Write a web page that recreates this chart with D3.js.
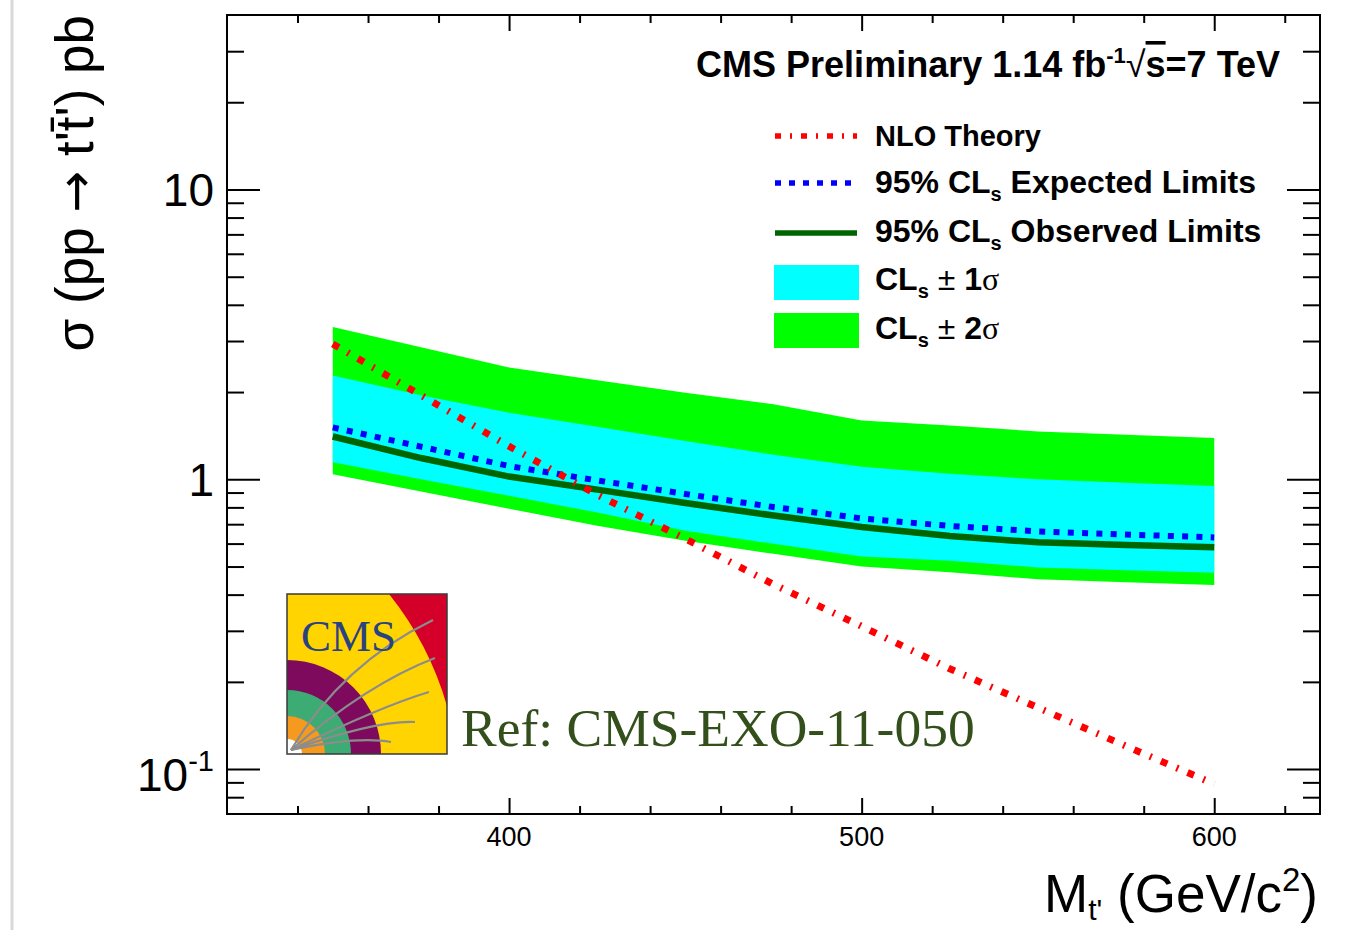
<!DOCTYPE html>
<html>
<head>
<meta charset="utf-8">
<script src="https://cdn.jsdelivr.net/npm/d3@7"></script>
<style>
  body { margin: 0; background: #fff; }
  svg { display: block; }
</style>
</head>
<body>
<svg id="chart" width="1348" height="930"></svg>
<script>
// t' pair-production cross-section limits vs. t' mass
const masses     = [350, 375, 400, 425, 450, 475, 500, 525, 550, 575, 600];
const nloTheory  = [2.93, 1.95, 1.30, 0.884, 0.623, 0.434, 0.311, 0.222, 0.163, 0.120, 0.0888];
const expected   = [1.51, 1.296, 1.111, 0.991, 0.890, 0.802, 0.733, 0.690, 0.661, 0.645, 0.630];
const observed   = [1.405, 1.184, 1.022, 0.921, 0.828, 0.750, 0.685, 0.637, 0.606, 0.593, 0.583];
const plus2Sigma = [3.356, 2.855, 2.432, 2.197, 1.989, 1.815, 1.596, 1.532, 1.463, 1.424, 1.389];
const plus1Sigma = [2.279, 1.950, 1.696, 1.517, 1.356, 1.215, 1.105, 1.046, 1.000, 0.973, 0.948];
const minus1Sigma= [1.145, 1.000, 0.877, 0.768, 0.665, 0.599, 0.541, 0.524, 0.496, 0.485, 0.476];
const minus2Sigma= [1.041, 0.907, 0.792, 0.692, 0.614, 0.553, 0.500, 0.478, 0.452, 0.441, 0.432];

const xMajorTicks = [400, 500, 600];
const xTickLabels = ["400", "500", "600"];
const yMajorTicks = [0.1, 1, 10];
const yTickLabels = [["10", "-1"], ["1", ""], ["10", ""]];

const legendLabels = ["NLO Theory", "95% CL|s| Expected Limits", "95% CL|s| Observed Limits"];

const svg = d3.select("#chart");
const W = 1348, H = 930;
const frame = { left: 227, right: 1320, top: 15, bottom: 814 };

const x = d3.scaleLinear().domain([320, 630]).range([frame.left, frame.right]);
const y = d3.scaleLog().domain([0.07, 40]).range([frame.bottom, frame.top]);

// thin page-edge rule on the far left
svg.append("line").attr("x1", 12).attr("x2", 12).attr("y1", 0).attr("y2", H)
  .attr("stroke", "#d9d9d9").attr("stroke-width", 3);

const rows = masses.map((m, i) => ({
  m, th: nloTheory[i], exp: expected[i], obs: observed[i],
  p2: plus2Sigma[i], p1: plus1Sigma[i], m1: minus1Sigma[i], m2: minus2Sigma[i]
}));

// uncertainty bands
const band = (lo, hi) => d3.area().x(d => x(d.m)).y0(d => y(d[lo])).y1(d => y(d[hi]));
svg.append("path").datum(rows).attr("d", band("m2", "p2")).attr("fill", "#00ff00");
svg.append("path").datum(rows).attr("d", band("m1", "p1")).attr("fill", "#00ffff");

// limit curves
const line = key => d3.line().x(d => x(d.m)).y(d => y(d[key]));
svg.append("path").datum(rows).attr("d", line("obs"))
  .attr("fill", "none").attr("stroke", "#006400").attr("stroke-width", 6.5);
svg.append("path").datum(rows).attr("d", line("exp"))
  .attr("fill", "none").attr("stroke", "#0000ff").attr("stroke-width", 6)
  .attr("stroke-dasharray", "6,8.3");
svg.append("path").datum(rows).attr("d", line("th"))
  .attr("fill", "none").attr("stroke", "#ff0000").attr("stroke-width", 7)
  .attr("stroke-dasharray", "7,10,2,10");

// frame
svg.append("rect")
  .attr("x", frame.left).attr("y", frame.top)
  .attr("width", frame.right - frame.left).attr("height", frame.bottom - frame.top)
  .attr("fill", "none").attr("stroke", "#000").attr("stroke-width", 2);

// ticks on all four sides (pointing into the frame)
const yMinor = y.ticks().filter(v => {
  const r = v / Math.pow(10, Math.floor(Math.log10(v) + 1e-9));
  return Math.abs(r - 1) > 1e-6 && v > 0.0701 && v < 39.9;
});
const xMinor = d3.range(340, 630, 20).filter(v => v % 100 !== 0);

function drawAxis(axis, tf) {
  const g = svg.append("g").attr("transform", tf).call(axis);
  g.select(".domain").remove();
  g.selectAll("line").attr("stroke", "#000").attr("stroke-width", 2);
  g.selectAll("text").remove();
}
drawAxis(d3.axisLeft(y).tickValues(yMajorTicks).tickSize(-33), `translate(${frame.left},0)`);
drawAxis(d3.axisLeft(y).tickValues(yMinor).tickSize(-17), `translate(${frame.left},0)`);
drawAxis(d3.axisRight(y).tickValues(yMajorTicks).tickSize(-33), `translate(${frame.right},0)`);
drawAxis(d3.axisRight(y).tickValues(yMinor).tickSize(-17), `translate(${frame.right},0)`);
drawAxis(d3.axisBottom(x).tickValues(xMajorTicks).tickSize(-16), `translate(0,${frame.bottom})`);
drawAxis(d3.axisBottom(x).tickValues(xMinor).tickSize(-8), `translate(0,${frame.bottom})`);
drawAxis(d3.axisTop(x).tickValues(xMajorTicks).tickSize(-16), `translate(0,${frame.top})`);
drawAxis(d3.axisTop(x).tickValues(xMinor).tickSize(-8), `translate(0,${frame.top})`);

// tick labels
const sans = "'Liberation Sans', Arial, Helvetica, sans-serif";
const serif = "'Liberation Serif', 'Times New Roman', serif";
svg.append("g").selectAll("text").data(xMajorTicks).join("text")
  .attr("x", d => x(d)).attr("y", frame.bottom + 32)
  .attr("text-anchor", "middle").attr("font-family", sans).attr("font-size", 27)
  .text((d, i) => xTickLabels[i]);

const yl = svg.append("g");
yMajorTicks.forEach((v, i) => {
  const [base, exp] = yTickLabels[i];
  const t = yl.append("text")
    .attr("x", 214).attr("y", y(v) + (exp ? 22 : 17))
    .attr("text-anchor", "end").attr("font-family", sans).attr("font-size", 46);
  t.append("tspan").text(base);
  if (exp) t.append("tspan").attr("dy", -20).attr("font-size", 29).text(exp);
});

// axis titles
const xt = svg.append("text").attr("x", 1318).attr("y", 912)
  .attr("text-anchor", "end").attr("font-family", sans).attr("font-size", 53);
xt.append("tspan").text("M");
xt.append("tspan").attr("dy", 8).attr("font-size", 30).text("t'");
xt.append("tspan").attr("dy", -8).text(" (GeV/c");
xt.append("tspan").attr("dy", -21).attr("font-size", 33).text("2");
xt.append("tspan").attr("dy", 21).text(")");

const yt = svg.append("text").attr("transform", "translate(93,15) rotate(-90)")
  .attr("text-anchor", "end").attr("font-family", sans).attr("font-size", 53);
yt.append("tspan").text("σ (pp ");
yt.append("tspan").attr("font-family", "'DejaVu Sans', sans-serif").attr("font-size", 50).text("→");
yt.append("tspan").text(" t't\u0304') pb");

// header
const hdr = svg.append("text").attr("x", 1280).attr("y", 77)
  .attr("text-anchor", "end").attr("font-family", sans).attr("font-weight", "bold")
  .attr("font-size", 36);
hdr.append("tspan").text("CMS Preliminary 1.14 fb");
hdr.append("tspan").attr("dy", -14).attr("font-size", 22).text("-1");
hdr.append("tspan").attr("dy", 14).attr("font-weight", "normal").text("√");
hdr.append("tspan").attr("text-decoration", "overline").text("s");
hdr.append("tspan").text("=7 TeV");

// legend
const lg = svg.append("g");
const lx0 = 775, lx1 = 857, tx = 875;
const legendRows = [
  { yl: 136, base: 146, size: 29, kind: "line", stroke: "#ff0000", dash: "6,9,2,9", w: 5.5 },
  { yl: 183, base: 193, size: 32, kind: "line", stroke: "#0000ff", dash: "6,8", w: 5.5 },
  { yl: 233, base: 242, size: 32, kind: "line", stroke: "#006400", dash: null, w: 5.5 },
  { yl: 283, base: 290, size: 32, kind: "box", fill: "#00ffff", sig: "1" },
  { yl: 331, base: 339, size: 32, kind: "box", fill: "#00ff00", sig: "2" }
];
legendRows.forEach((r, i) => {
  if (r.kind === "line") {
    lg.append("line").attr("x1", lx0).attr("x2", lx1).attr("y1", r.yl).attr("y2", r.yl)
      .attr("stroke", r.stroke).attr("stroke-width", r.w)
      .attr("stroke-dasharray", r.dash);
  } else {
    lg.append("rect").attr("x", lx0 - 1).attr("y", r.yl - 18).attr("width", 85).attr("height", 35)
      .attr("fill", r.fill);
  }
  const t = lg.append("text").attr("x", tx).attr("y", r.base)
    .attr("font-family", sans).attr("font-weight", "bold").attr("font-size", r.size);
  if (r.kind === "line") {
    const parts = legendLabels[i].split("|");
    t.append("tspan").text(parts[0]);
    if (parts.length > 1) {
      t.append("tspan").attr("dy", 8).attr("font-size", 20).text(parts[1]);
      t.append("tspan").attr("dy", -8).text(parts[2]);
    }
  } else {
    t.append("tspan").text("CL");
    t.append("tspan").attr("dy", 8).attr("font-size", 20).text("s");
    t.append("tspan").attr("dy", -8).attr("font-weight", "normal").text(" ± ");
    t.append("tspan").text(r.sig);
    t.append("tspan").attr("font-weight", "normal").attr("font-family", serif).text("σ");
  }
});

// CMS logo
const logo = svg.append("g").attr("transform", "translate(287,594)");
const S = 160;
logo.append("clipPath").attr("id", "logoClip").append("rect").attr("width", S).attr("height", S);
const lc = logo.append("g").attr("clip-path", "url(#logoClip)");
lc.append("rect").attr("width", S).attr("height", S).attr("fill", "#ffd400");
lc.append("path").attr("d", "M102,0 L160,0 L160,112 A320,320 0 0 0 102,0 Z").attr("fill", "#d4002a");
const rings = [[94, "#7d0a5c"], [64, "#3dab74"], [38, "#f59a1f"], [15, "#ffffff"]];
rings.forEach(([r, c]) => lc.append("circle").attr("cx", 0).attr("cy", S).attr("r", r).attr("fill", c));
const tracks = [
  "M4,156 Q55,70 146,26",
  "M4,156 Q80,90 148,64",
  "M4,156 Q95,112 142,98",
  "M4,156 Q90,126 128,128",
  "M4,156 Q70,142 104,148"
];
tracks.forEach(d => lc.append("path").attr("d", d).attr("fill", "none")
  .attr("stroke", "#8c8c8c").attr("stroke-width", 2.2));
lc.append("text").attr("x", 14).attr("y", 57)
  .attr("font-family", serif).attr("font-size", 45).attr("fill", "#2a4380").text("CMS");
logo.append("rect").attr("width", S).attr("height", S).attr("fill", "none")
  .attr("stroke", "#3a3a3a").attr("stroke-width", 1.5);

svg.append("text").attr("x", 461).attr("y", 746)
  .attr("font-family", serif).attr("font-size", 53.5).attr("fill", "#33501c")
  .text("Ref: CMS-EXO-11-050");
</script>
</body>
</html>
